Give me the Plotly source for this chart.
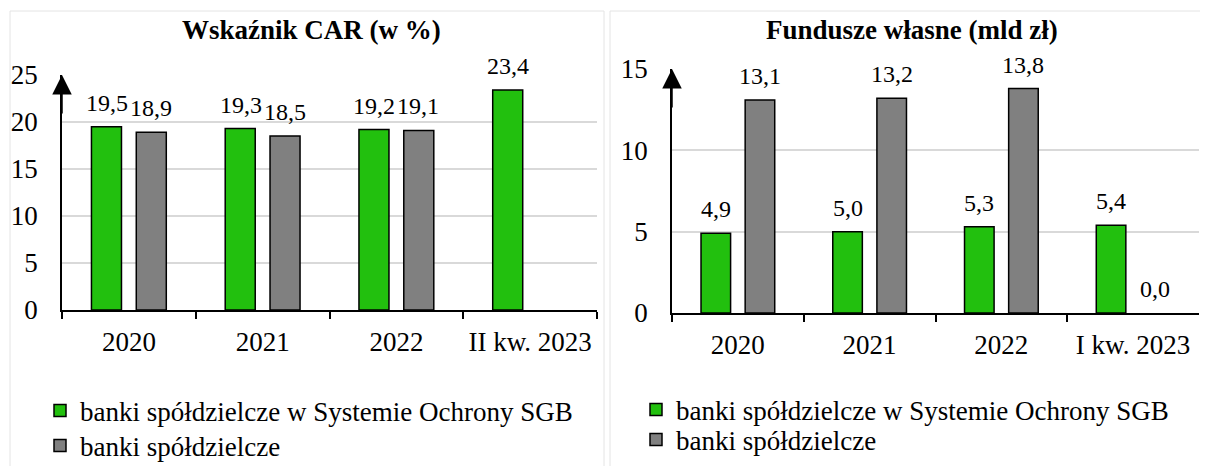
import plotly.graph_objects as go

W, H = 1208, 466
FONT = "Liberation Serif"
OFF = 8  # page body margin offset

# ---- data ----
car_categories = ["2020", "2021", "2022", "II kw. 2023"]
car_sgb = [19.5, 19.3, 19.2, 23.4]
car_bs = [18.9, 18.5, 19.1, None]

fw_categories = ["2020", "2021", "2022", "I kw. 2023"]
fw_sgb = [4.9, 5.0, 5.3, 5.4]
fw_bs = [13.1, 13.2, 13.8, 0.0]

series_names = ["banki spółdzielcze w Systemie Ochrony SGB", "banki spółdzielcze"]
titles = ["Wskaźnik CAR (w %)", "Fundusze własne (mld zł)"]
car_ticks = [0, 5, 10, 15, 20, 25]
fw_ticks = [0, 5, 10, 15]

GREEN = "#22C00E"
GREY = "#808080"
GRID = "#D9D9D9"
BORDER = "#E4E4E4"


def px(p):
    return (p - OFF) / W


def py(p):
    return 1 - (p - OFF) / H


def fmt(v):
    return f"{v:.1f}".replace(".", ",")


fig = go.Figure()

panels = [
    dict(cats=car_categories, s1=car_sgb, s2=car_bs, xa="x", ya="y", legs=["legend", "legend2"], ticks=car_ticks),
    dict(cats=fw_categories, s1=fw_sgb, s2=fw_bs, xa="x2", ya="y2", legs=["legend3", "legend4"], ticks=fw_ticks),
]

for p in panels:
    for name, vals, col, leg in [(series_names[0], p["s1"], GREEN, p["legs"][0]),
                                 (series_names[1], p["s2"], GREY, p["legs"][1])]:
        widths = [1.5 if (v is not None and v != 0) else 0 for v in vals]
        fig.add_trace(go.Bar(
            x=p["cats"], y=vals, name=name,
            marker=dict(color=col, line=dict(color="black", width=widths)),
            xaxis=p["xa"], yaxis=p["ya"], legend=leg,
            hoverinfo="skip",
        ))

annotations = []
for p in panels:
    xref = p["xa"]
    yref = p["ya"]
    for vals, shift in [(p["s1"], -22), (p["s2"], 22)]:
        for i, v in enumerate(vals):
            if v is None:
                continue
            annotations.append(dict(
                x=i, y=v, xref=xref, yref=yref, text=fmt(v), showarrow=False,
                xanchor="center", yanchor="bottom", xshift=shift, yshift=9,
                font=dict(family=FONT, size=24, color="black"),
            ))
    # arrow head on y axis
    top = p["ticks"][-1]
    annotations.append(dict(
        x=0, y=top, xref=xref + " domain", yref=yref, axref="pixel", ayref="pixel",
        ax=0, ay=40, text="", showarrow=True, arrowhead=2, arrowsize=2.6, arrowwidth=1.5,
        arrowcolor="black", standoff=0,
    ))

annotations.append(dict(x=px(311), y=py(30), xref="paper", yref="paper",
                        text="<b>" + titles[0] + "</b>", showarrow=False,
                        xanchor="center", yanchor="middle",
                        font=dict(family=FONT, size=27, color="black")))
annotations.append(dict(x=px(912), y=py(30), xref="paper", yref="paper",
                        text="<b>" + titles[1] + "</b>", showarrow=False,
                        xanchor="center", yanchor="middle",
                        font=dict(family=FONT, size=27, color="black")))

shapes = [
    dict(type="rect", xref="paper", yref="paper", x0=px(10), x1=px(604), y0=-0.1, y1=py(11),
         line=dict(color=BORDER, width=1), layer="below"),
    dict(type="rect", xref="paper", yref="paper", x0=px(610), x1=1.05, y0=-0.1, y1=py(11),
         line=dict(color=BORDER, width=1), layer="below"),
]

xcommon = dict(type="category", showline=True, linecolor="black", linewidth=1.5,
               ticks="outside", ticklen=7, tickwidth=1.5, tickcolor="black",
               tickson="boundaries", showgrid=False, zeroline=False, tickangle=0,
               range=[-0.5, 3.5], autorange=False, automargin=False,
               ticklabelstandoff=7,
               tickfont=dict(family=FONT, size=27, color="black"), fixedrange=True)
ycommon = dict(showgrid=True, gridcolor=GRID, gridwidth=1.5, zeroline=False,
               showline=True, linecolor="black", linewidth=1.5, ticks="",
               ticklabelstandoff=17, automargin=False,
               tickfont=dict(family=FONT, size=27, color="black"), fixedrange=True)

legcommon = dict(xanchor="left", yanchor="middle", orientation="v",
                 font=dict(family=FONT, size=27, color="black"),
                 bgcolor="rgba(0,0,0,0)", itemwidth=30, tracegroupgap=0)

fig.update_layout(
    width=W, height=H,
    margin=dict(l=0, r=0, t=0, b=0, autoexpand=False),
    paper_bgcolor="white", plot_bgcolor="white",
    barmode="group", bargap=0.33, bargroupgap=0.33,
    font=dict(family=FONT, color="black"),
    xaxis=dict(domain=[px(62), px(597)], anchor="y", categoryarray=car_categories, **xcommon),
    yaxis=dict(domain=[py(310), py(75)], anchor="x", range=[0, 25], tickvals=car_ticks, **ycommon),
    xaxis2=dict(domain=[px(672), px(1199)], anchor="y2", categoryarray=fw_categories, **xcommon),
    yaxis2=dict(domain=[py(313), py(69)], anchor="x2", range=[0, 15], tickvals=fw_ticks, **ycommon),
    legend=dict(x=px(40), y=py(411), **legcommon),
    legend2=dict(x=px(40), y=py(446), **legcommon),
    legend3=dict(x=px(636), y=py(410), **legcommon),
    legend4=dict(x=px(636), y=py(440), **legcommon),
    annotations=annotations,
    shapes=shapes,
    showlegend=True,
)

fig.write_html("out.html")
